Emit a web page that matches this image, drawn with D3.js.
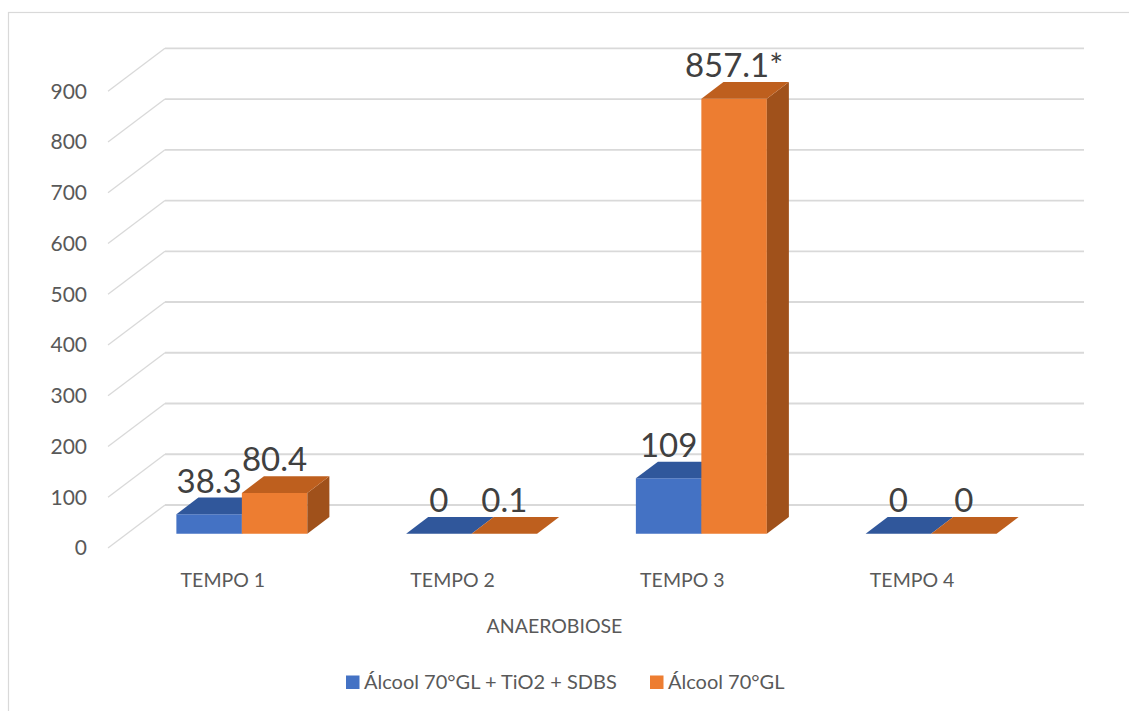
<!DOCTYPE html>
<html>
<head>
<meta charset="utf-8">
<script src="https://cdn.jsdelivr.net/npm/d3@7"></script>
<style>
  html, body { margin: 0; padding: 0; background: #ffffff; }
  svg { display: block; font-family: Lato, "Open Sans", sans-serif; }
</style>
</head>
<body>
<svg id="chart" width="1129" height="711"></svg>
<script>
// ---- data ----
const categories = ["TEMPO 1", "TEMPO 2", "TEMPO 3", "TEMPO 4"];
const seriesNames = ["Álcool 70°GL + TiO2 + SDBS", "Álcool 70°GL"];
const seriesTiO2 = [38.3, 0, 109, 0];
const seriesAlcool = [80.4, 0.1, 857.1, 0];
const seriesAlcoolNotes = ["", "", "*", ""];
const yTicks = [0, 100, 200, 300, 400, 500, 600, 700, 800, 900];
const axisTitle = "ANAEROBIOSE";

// ---- styles ----
const palette = [
  { front: "#4472C4", top: "#30579B", side: "#284A84" },
  { front: "#ED7D31", top: "#BE5F1E", side: "#A0511B" }
];
const textColor = "#595959";
const gridColor = "#d9d9d9";

// ---- 3D layout ----
const plotLeft = 108, plotRight = 1027;     // front plane extent
const depth = { dx: 57, dy: -43 };          // full floor depth projection
const barZ0 = 0.333, barZ1 = 0.72;          // bar slab position within depth

const svg = d3.select("#chart");

// chart border
svg.append("rect")
  .attr("x", 8.5).attr("y", 12.5)
  .attr("width", 1140).attr("height", 720)
  .attr("fill", "none").attr("stroke", "#d9d9d9").attr("stroke-width", 1.2);

const y = d3.scaleLinear().domain([0, 900]).range([548, 91.3]);
const x = d3.scaleBand().domain(categories).range([plotLeft, plotRight])
  .paddingInner(0.43).paddingOuter(0.215);
const xSeries = d3.scaleBand().domain(d3.range(seriesNames.length)).range([0, x.bandwidth()]);

// project a point on the front plane at depth z (0 = front, 1 = back wall)
const proj = (px, v, z) => [px + z * depth.dx, y(v) + z * depth.dy];

// ---- gridlines: floor-edge diagonals + back wall lines ----
const grid = svg.append("g");
grid.selectAll("line.diag").data(yTicks).join("line")
  .attr("class", "diag")
  .attr("x1", plotLeft).attr("y1", d => y(d))
  .attr("x2", plotLeft + depth.dx).attr("y2", d => y(d) + depth.dy)
  .attr("stroke", gridColor).attr("stroke-width", 1.3);
grid.selectAll("line.back").data(yTicks).join("line")
  .attr("class", "back")
  .attr("x1", plotLeft + depth.dx).attr("y1", d => y(d) + depth.dy)
  .attr("x2", plotRight + depth.dx).attr("y2", d => y(d) + depth.dy)
  .attr("stroke", gridColor).attr("stroke-width", 1.8);

// ---- value axis labels ----
svg.append("g").selectAll("text").data(yTicks).join("text")
  .attr("x", 87).attr("y", d => y(d))
  .attr("dy", "0.35em")
  .attr("text-anchor", "end")
  .attr("fill", textColor).attr("font-size", 21)
  .text(d => d);

// ---- bars ----
const allSeries = [seriesTiO2, seriesAlcool];
const bars = [];
categories.forEach((c, ci) => {
  allSeries.forEach((s, si) => {
    bars.push({ cat: c, si, value: s[ci], note: si === 1 ? seriesAlcoolNotes[ci] : "" });
  });
});

const line = pts => "M" + pts.map(p => p.join(",")).join("L") + "Z";
const barG = svg.append("g");
bars.forEach(b => {
  const x0 = x(b.cat) + xSeries(b.si);
  const x1 = x0 + xSeries.bandwidth();
  const col = palette[b.si];
  const g = barG.append("g");
  // front face
  g.append("path")
    .attr("d", line([proj(x0, 0, barZ0), proj(x1, 0, barZ0), proj(x1, b.value, barZ0), proj(x0, b.value, barZ0)]))
    .attr("fill", col.front);
  // right side
  g.append("path")
    .attr("d", line([proj(x1, 0, barZ0), proj(x1, 0, barZ1), proj(x1, b.value, barZ1), proj(x1, b.value, barZ0)]))
    .attr("fill", col.side);
  // top
  g.append("path")
    .attr("d", line([proj(x0, b.value, barZ0), proj(x1, b.value, barZ0), proj(x1, b.value, barZ1), proj(x0, b.value, barZ1)]))
    .attr("fill", col.top);
});

// ---- data labels (centred over each bar's front face) ----
svg.append("g").selectAll("text").data(bars).join("text")
  .attr("x", d => proj(x(d.cat) + xSeries(d.si) + xSeries.bandwidth() / 2, d.value, barZ0)[0])
  .attr("y", d => proj(0, d.value, barZ1)[1] - 5)
  .attr("text-anchor", "middle")
  .attr("fill", "#404040").attr("font-size", 33)
  .text(d => d3.format("")(d.value) + d.note);

// ---- category labels ----
svg.append("g").selectAll("text").data(categories).join("text")
  .attr("x", d => x(d) + x.bandwidth() / 2)
  .attr("y", 587)
  .attr("text-anchor", "middle")
  .attr("fill", textColor).attr("font-size", 19.5)
  .text(d => d);

svg.append("text")
  .attr("x", 554.5).attr("y", 633)
  .attr("text-anchor", "middle")
  .attr("fill", textColor).attr("font-size", 19.5)
  .text(axisTitle);

// ---- legend ----
const legendItems = [{ x: 346, name: seriesNames[0], color: palette[0].front },
                     { x: 650, name: seriesNames[1], color: palette[1].front }];
const lg = svg.append("g").selectAll("g").data(legendItems).join("g")
  .attr("transform", d => `translate(${d.x},0)`);
lg.append("rect").attr("x", 0).attr("y", 675.5).attr("width", 13.5).attr("height", 13.5)
  .attr("fill", d => d.color);
lg.append("text").attr("x", 18).attr("y", 689)
  .attr("fill", textColor).attr("font-size", 20)
  .text(d => d.name);
</script>
</body>
</html>
